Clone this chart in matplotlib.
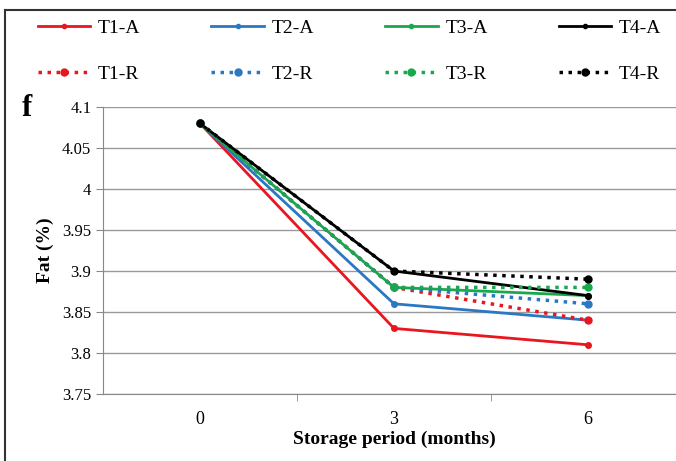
import numpy as np
import matplotlib
matplotlib.use("Agg")
import matplotlib.pyplot as plt
from matplotlib.lines import Line2D

plt.rcParams['font.family'] = ['Liberation Serif', 'DejaVu Serif']

periods = ["0", "3", "6"]
series = ["T1-A", "T2-A", "T3-A", "T4-A", "T1-R", "T2-R", "T3-R", "T4-R"]
fat = {
    "T1-A": [4.08, 3.83, 3.81],
    "T2-A": [4.08, 3.86, 3.84],
    "T3-A": [4.08, 3.88, 3.87],
    "T4-A": [4.08, 3.90, 3.87],
    "T1-R": [4.08, 3.88, 3.84],
    "T2-R": [4.08, 3.88, 3.86],
    "T3-R": [4.08, 3.88, 3.88],
    "T4-R": [4.08, 3.90, 3.89],
}
colors = {"T1": "#e8161e", "T2": "#2a78c4", "T3": "#1aa84e", "T4": "#000000"}

fig = plt.figure(figsize=(6.76, 4.61), dpi=100)
ax = fig.add_axes([103/676, 1-394/461, (685-103)/676, (394-107)/461])

x = np.arange(len(periods))
for name in series:
    c = colors[name[:2]]
    if name.endswith("A"):
        ax.plot(x, fat[name], color=c, lw=2, marker="o", ms=4, zorder=3)
    else:
        ax.plot(x, fat[name], color=c, lw=2.5, ls=(0, (1, 1.6)), marker="o", ms=5, zorder=4)

ax.set_xlim(-0.5, 2.5)
ax.set_ylim(3.75, 4.1)
ax.set_yticks(np.arange(3.75, 4.1001, 0.05))
ax.set_yticklabels(["3.75", "3.8", "3.85", "3.9", "3.95", "4", "4.05", "4.1"])
ax.set_xticks(x)
ax.set_xticklabels(periods)
ax.set_xticks([0.5, 1.5], minor=True)
ax.tick_params(axis="x", which="major", length=0, labelsize=13, pad=12)
ax.tick_params(axis="x", which="minor", length=5, color="#888888", direction="out")
ax.tick_params(axis="y", length=5, color="#888888", labelsize=12, direction="out")
ax.grid(axis="y", color="#999999", lw=1)
for s in ["top", "right"]:
    ax.spines[s].set_visible(False)
ax.spines["left"].set_color("#888888")
ax.spines["bottom"].set_color("#888888")
ax.set_axisbelow(True)

ax.set_xlabel("Storage period (months)", fontsize=14, fontweight="bold", labelpad=2)
ax.set_ylabel("Fat (%)", fontsize=14, fontweight="bold", labelpad=6)
fig.text(22/676, 1-108/461, "f", fontsize=22, fontweight="bold", va="center", ha="left")

# legend: two rows (A on top, R below); matplotlib fills columns first
handles, labels = [], []
for t in ["T1", "T2", "T3", "T4"]:
    c = colors[t]
    handles.append(Line2D([], [], color=c, lw=2, marker="o", ms=3))
    labels.append(t + "-A")
    handles.append(Line2D([], [], color=c, lw=2.5, ls=(0, (1, 1.6)), marker="o", ms=5))
    labels.append(t + "-R")
fig.legend(handles, labels, loc="upper left", bbox_to_anchor=(20/676, 1-2/461), ncol=4,
           frameon=False, fontsize=14, handlelength=2.7, handletextpad=0.4,
           columnspacing=3.65, labelspacing=1.45)

# outer frame
fig.add_artist(plt.Line2D([5/676, 5/676], [0, 1-10/461], color="#333333", lw=1.5))
fig.add_artist(plt.Line2D([5/676, 1], [1-10/461, 1-10/461], color="#333333", lw=1.5))

fig.savefig("out.png", dpi=100)
